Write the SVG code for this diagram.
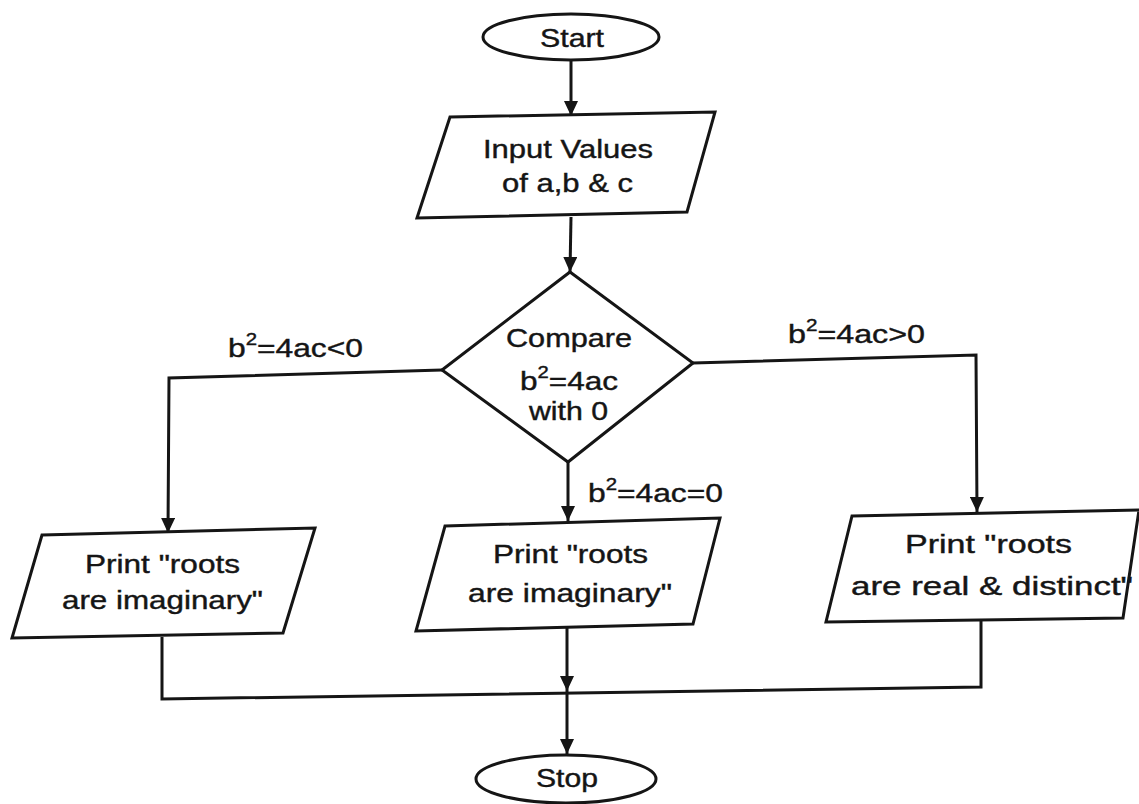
<svg xmlns="http://www.w3.org/2000/svg" width="1139" height="804" viewBox="0 0 1139 804">
<style>
.t { font-family: "Liberation Sans", Arial, sans-serif; font-size: 25px; fill: #151515; stroke: #151515; stroke-width: 0.4; }
.s { fill: #ffffff; stroke: #151515; stroke-width: 3; stroke-linejoin: miter; }
.c { fill: none; stroke: #151515; stroke-width: 3; }
.sup { font-size: 16px; }
</style>
<defs>
<marker id="arr" viewBox="0 0 15 14" refX="15" refY="7" markerWidth="15" markerHeight="14" markerUnits="userSpaceOnUse" orient="auto">
<path d="M0,0 L15,7 L0,14 z" fill="#151515"/>
</marker>
</defs>
<rect x="0" y="0" width="1139" height="804" fill="#ffffff"/>

<g id="connectors">
<path class="c" d="M571,60 L571,116" marker-end="url(#arr)"/>
<path class="c" d="M571,217 L570,272" marker-end="url(#arr)"/>
<path class="c" d="M442,370 L169,378 L168,533" marker-end="url(#arr)"/>
<path class="c" d="M693,363 L976,355 L977,512" marker-end="url(#arr)"/>
<path class="c" d="M568,462 L568,521" marker-end="url(#arr)"/>
<path class="c" d="M567,627 L567,691" marker-end="url(#arr)"/>
<path class="c" d="M567,691 L567,754" marker-end="url(#arr)"/>
<path class="c" d="M162,637 L162,699 L981,687 L981,620"/>
<text class="t" x="228" y="357" textLength="135" lengthAdjust="spacingAndGlyphs">b<tspan class="sup" dy="-12">2</tspan><tspan dy="12">=4ac&lt;0</tspan></text>
<text class="t" x="788" y="343" textLength="137" lengthAdjust="spacingAndGlyphs">b<tspan class="sup" dy="-12">2</tspan><tspan dy="12">=4ac&gt;0</tspan></text>
<text class="t" x="588" y="502" textLength="135" lengthAdjust="spacingAndGlyphs">b<tspan class="sup" dy="-12">2</tspan><tspan dy="12">=4ac=0</tspan></text>
</g>

<g id="start">
<ellipse class="s" cx="571" cy="37" rx="88" ry="23"/>
<text class="t" x="572" y="47" text-anchor="middle" textLength="64" lengthAdjust="spacingAndGlyphs">Start</text>
</g>

<g id="input">
<polygon class="s" points="450,117 715,112 687,212 417,218"/>
<text class="t" x="568" y="158" text-anchor="middle" textLength="170" lengthAdjust="spacingAndGlyphs">Input Values</text>
<text class="t" x="567.5" y="192" text-anchor="middle" textLength="131" lengthAdjust="spacingAndGlyphs">of a,b &amp; c</text>
</g>

<g id="compare">
<polygon class="s" points="570,272 693,363 568,462 442,370"/>
<text class="t" x="569" y="347" text-anchor="middle" textLength="126" lengthAdjust="spacingAndGlyphs">Compare</text>
<text class="t" x="520" y="390" textLength="98" lengthAdjust="spacingAndGlyphs">b<tspan class="sup" dy="-12">2</tspan><tspan dy="12">=4ac</tspan></text>
<text class="t" x="568.5" y="420" text-anchor="middle" textLength="79" lengthAdjust="spacingAndGlyphs">with 0</text>
</g>

<g id="print-left">
<polygon class="s" points="42,535 315,528 283,633 12,638"/>
<text class="t" x="162.5" y="573" text-anchor="middle" textLength="155" lengthAdjust="spacingAndGlyphs">Print "roots</text>
<text class="t" x="162.5" y="609" text-anchor="middle" textLength="201" lengthAdjust="spacingAndGlyphs">are imaginary"</text>
</g>

<g id="print-middle">
<polygon class="s" points="445,526 720,518 693,624 416,631"/>
<text class="t" x="570.5" y="563" text-anchor="middle" textLength="155" lengthAdjust="spacingAndGlyphs">Print "roots</text>
<text class="t" x="570" y="602" text-anchor="middle" textLength="204" lengthAdjust="spacingAndGlyphs">are imaginary"</text>
</g>

<g id="print-right">
<polygon class="s" points="852,516 1139,510 1123,618 826,622"/>
<text class="t" x="988.5" y="553" text-anchor="middle" textLength="167" lengthAdjust="spacingAndGlyphs">Print "roots</text>
<text class="t" x="992" y="595" text-anchor="middle" textLength="282" lengthAdjust="spacingAndGlyphs">are real &amp; distinct"</text>
</g>

<g id="stop">
<ellipse class="s" cx="566" cy="779" rx="90" ry="24"/>
<text class="t" x="567" y="787" text-anchor="middle" textLength="62" lengthAdjust="spacingAndGlyphs">Stop</text>
</g>
</svg>
